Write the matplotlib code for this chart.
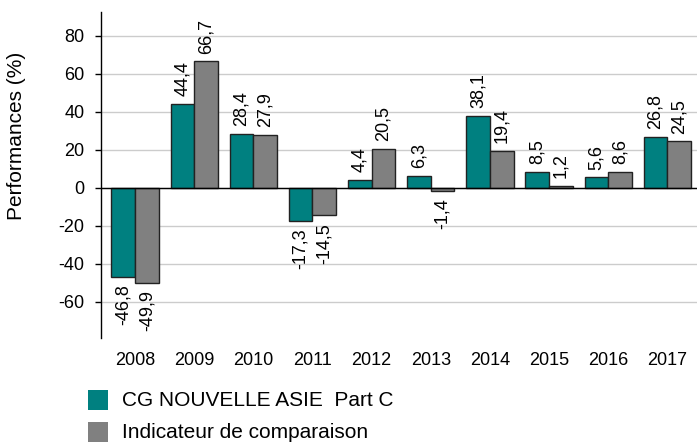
import matplotlib
matplotlib.use("Agg")
import matplotlib.pyplot as plt
from matplotlib.patches import Rectangle
import numpy as np

years = ["2008", "2009", "2010", "2011", "2012", "2013", "2014", "2015", "2016", "2017"]
fund = [-46.8, 44.4, 28.4, -17.3, 4.4, 6.3, 38.1, 8.5, 5.6, 26.8]
bench = [-49.9, 66.7, 27.9, -14.5, 20.5, -1.4, 19.4, 1.2, 8.6, 24.5]
series_names = ["CG NOUVELLE ASIE  Part C", "Indicateur de comparaison"]
yticks = [-60, -40, -20, 0, 20, 40, 60, 80]

plt.rcParams['font.family'] = ['Liberation Sans', 'DejaVu Sans']
teal = "#008080"
grey = "#808080"

fig = plt.figure(figsize=(7, 4.43), dpi=100)
ax = fig.add_axes([101/700, 1-338/443, 596/700, 326/443])

x = np.arange(len(years))
w = 0.4
b1 = ax.bar(x - w/2, fund, w, color=teal, edgecolor="#222222", linewidth=1, zorder=3)
b2 = ax.bar(x + w/2, bench, w, color=grey, edgecolor="#222222", linewidth=1, zorder=3)

def fmt(v):
    return f"{v:.1f}".replace(".", ",")

for bars, vals in ((b1, fund), (b2, bench)):
    for r, v in zip(bars, vals):
        cx = r.get_x() + r.get_width()/2
        if v >= 0:
            ax.annotate(fmt(v), (cx, v), xytext=(0, 5.5), textcoords="offset points",
                        rotation=90, ha="center", va="bottom", fontsize=13)
        else:
            ax.annotate(fmt(v), (cx, v), xytext=(0, -5.5), textcoords="offset points",
                        rotation=90, ha="center", va="top", fontsize=13)

ax.set_xlim(-0.575, 9.5)
ax.set_ylim(-79, 92.6)
ax.set_yticks(yticks)
ax.set_yticklabels([str(t) for t in yticks])
ax.set_xticks(x)
ax.set_xticklabels(years)
ax.tick_params(axis="x", length=0, pad=10, labelsize=13)
ax.tick_params(axis="y", length=4, width=1, pad=8, labelsize=13)
ax.grid(axis="y", color="#cccccc", linewidth=1, zorder=0)
ax.axhline(0, color="black", linewidth=1, zorder=4)
for s in ("top", "right", "bottom"):
    ax.spines[s].set_visible(False)
ax.spines["left"].set_linewidth(1)
fig.text(17/700, 1-135.5/443, "Performances (%)", rotation=90, fontsize=15,
         ha="center", va="center")

# legend
for i, (name, col) in enumerate(zip(series_names, [teal, grey])):
    y0 = 390 + i*32
    fig.add_artist(Rectangle((88/700, 1-(y0+20)/443), 20/700, 20/443,
                             transform=fig.transFigure, facecolor=col, edgecolor="none"))
    fig.text(122/700, 1-(y0+11)/443, name, fontsize=15, va="center", ha="left")

fig.savefig("out.png", dpi=100)
